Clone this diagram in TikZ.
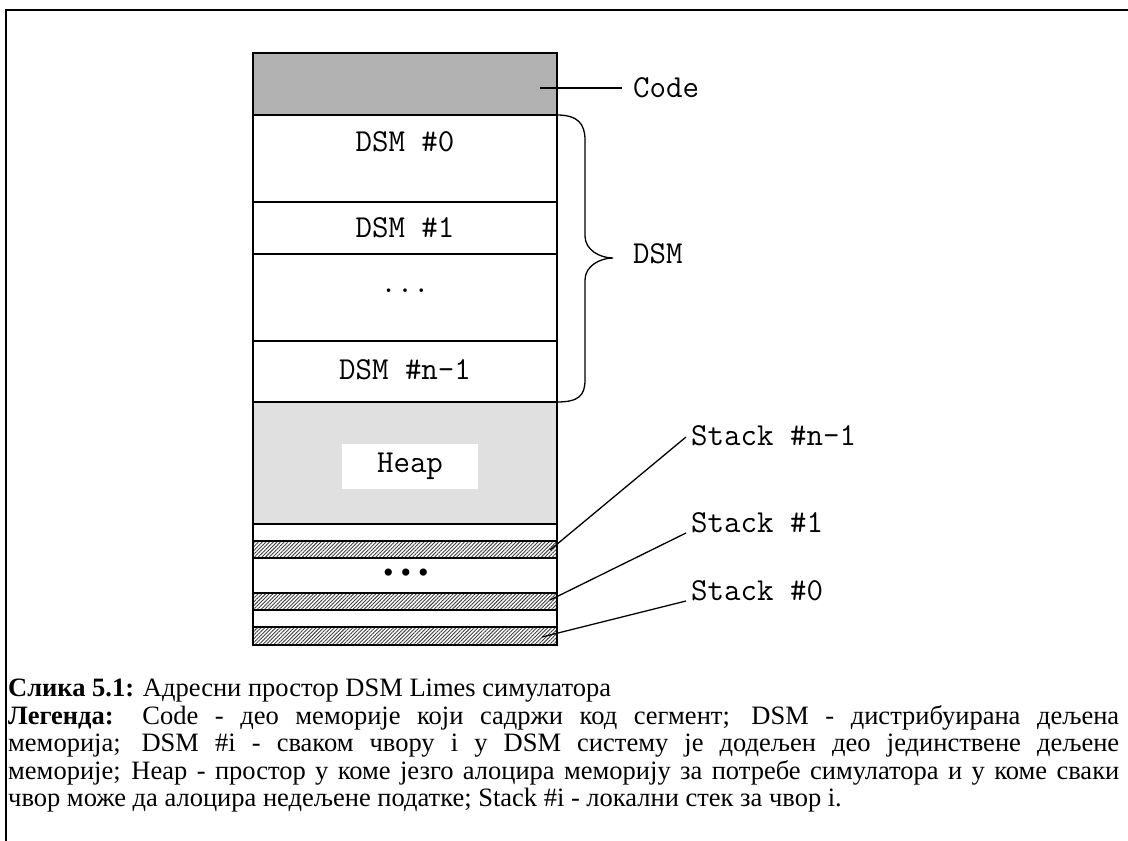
\documentclass[tikz,border=0pt]{standalone}
\usepackage{fontspec}
\setmainfont{Liberation Serif}
\usetikzlibrary{patterns.meta}
\newcommand{\capsetup}{\fontsize{26.5}{27.5}\selectfont\lineskiplimit-100pt\relax\lineskip0pt\relax}
\begin{document}
\begin{tikzpicture}[x=1pt,y=-1pt,
  seg/.style={draw, line width=1.6pt, minimum width=304pt, inner sep=0pt, outer sep=0pt, anchor=north west},
  codefill/.style={fill=black!30},
  heapfill/.style={fill=black!12},
  hatch/.style={pattern={Lines[angle=45,distance=2.6pt,line width=0.9pt]}, pattern color=black!75},
  lbl/.style={font=\ttfamily\fontsize{32}{34}\selectfont, inner sep=0pt, anchor=base west},
  seglbl/.style={font=\ttfamily\fontsize{32}{34}\selectfont, inner sep=0pt, anchor=base},
  leader/.style={line width=1.3pt}]
\useasboundingbox (0,0) rectangle (1128,841);
\fill[white] (0,0) rectangle (1128,841);
% frame
\draw[line width=2pt] (6,841) -- (6,10) -- (1128,10);
% segments
\node[seg, codefill, minimum height=62pt] (code) at (253,53) {};
\node[seg, minimum height=87pt] (dsm0) at (253,115) {};
\node[seg, minimum height=52pt] (dsm1) at (253,202) {};
\node[seg, minimum height=87pt] (dsmdots) at (253,254) {};
\node[seg, minimum height=61pt] (dsmn) at (253,341) {};
\node[seg, heapfill, minimum height=122pt] (heap) at (253,402) {};
\node[seg, minimum height=17pt] (w1) at (253,524) {};
\node[seg, hatch, minimum height=17pt] (s2) at (253,541) {};
\node[seg, minimum height=35pt] (w2) at (253,558) {};
\node[seg, hatch, minimum height=17pt] (s1) at (253,593) {};
\node[seg, minimum height=17pt] (w3) at (253,610) {};
\node[seg, hatch, minimum height=18pt] (s0) at (253,627) {};
% segment texts
\node[seglbl] (t0) at (405,151) {DSM \#0};
\node[seglbl] (t1) at (405,237) {DSM \#1};
\node[seglbl] (tdots) at (405,292) {...};
\node[seglbl] (tn) at (405,379) {DSM \#n-1};
\node[fill=white, minimum width=136pt, minimum height=45pt, inner sep=0pt] (heapbox) at (410,466.5) {};
\node[seglbl] (theap) at (410,472) {Heap};
\node[font=\fontsize{30}{32}\selectfont, inner sep=0pt] (bul) at (406,576) {\textbullet\hspace{7pt}\textbullet\hspace{7pt}\textbullet};
% labels
\coordinate (cA) at (540,88);
\coordinate (cB) at (622,88);
\draw[leader] (cA) -- (cB);
\node[lbl] (lcode) at (633,97) {Code};
% brace
\coordinate (bt) at (557,115);
\coordinate (bb) at (557,402);
\coordinate (btip) at (613,258);
\draw[leader] (bt) .. controls (578,115) and (585,124) .. (585,140)
  -- (585,236) .. controls (585,250) and (600,258) .. (btip)
  .. controls (600,258) and (585,266) .. (585,280)
  -- (585,380) .. controls (585,396) and (578,402) .. (bb);
\node[lbl] (ldsm) at (633,263) {DSM};
% stack labels
\node[lbl] (ln) at (691,445) {Stack \#n-1};
\node[lbl] (l1) at (691,532) {Stack \#1};
\node[lbl] (l0) at (691,600) {Stack \#0};
\coordinate (pn) at (550,550);
\coordinate (qn) at (686,437);
\coordinate (p1) at (550,600);
\coordinate (q1) at (686,533);
\coordinate (p0) at (542,637);
\coordinate (q0) at (686,601);
\draw[leader] (pn) -- (qn);
\draw[leader] (p1) -- (q1);
\draw[leader] (p0) -- (q0);
% caption
\node[anchor=north west, inner sep=0pt, text width=1111pt, align=justify,
  font=\capsetup] (cap) at (8,679)
{\capsetup\textbf{Слика 5.1:} Адресни простор DSM Limes симулатора\\
\textbf{Легенда:} Code - део меморије који садржи код сегмент; DSM - дистрибуирана дељена\linebreak
меморија; DSM \#i - сваком чвору i у DSM систему је додељен део јединствене дељене\linebreak
меморије; Heap - простор у коме језго алоцира меморију за потребе симулатора и у коме сваки\linebreak
чвор може да алоцира недељене податке; Stack \#i - локални стек за чвор i.};
\end{tikzpicture}
\end{document}
